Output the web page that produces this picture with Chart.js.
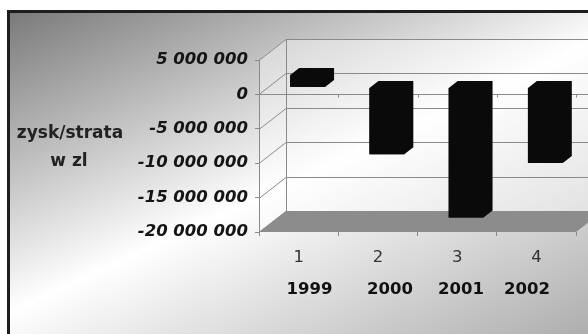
<!DOCTYPE html>
<html><head><meta charset="utf-8">
<style>html,body{margin:0;padding:0;background:#fff;overflow:hidden}canvas{display:block}</style>
<script src="https://cdn.jsdelivr.net/npm/chart.js@4/dist/chart.umd.min.js"></script>
</head><body>
<canvas id="c" width="588" height="334"></canvas>
<script>
const categories = ['1', '2', '3', '4'];
const years = ['1999', '2000', '2001', '2002'];
const profit = [1800000, -9700000, -18900000, -11000000];
const yMin = -20000000;
const yMax = 5000000;
const yStep = 5000000;
const yTitle = ['zysk/strata', 'w zl'];

function fmt(v) {
  const s = Math.abs(v).toString().replace(/\B(?=(\d{3})+(?!\d))/g, ' ');
  return (v < 0 ? '-' : '') + s;
}

const WALL_DX = 27, WALL_DY = -21;   // depth of the 3D box
const BAR_DX = 9, BAR_DY = -7;       // bar offset / bar depth
const YEAR_X = [309.5, 390, 461, 527]; // free text box positions
const YEAR_Y = 290;

const scene = {
  id: 'scene3d',
  beforeDraw(chart) {
    const ctx = chart.ctx, a = chart.chartArea, ys = chart.scales.y, xs = chart.scales.x;
    const W = chart.width, H = chart.height;
    ctx.save();
    ctx.fillStyle = '#fff';
    ctx.fillRect(0, 0, W, H);
    // gradient background in frame
    const g = ctx.createLinearGradient(10, 12, 238, 506);
    g.addColorStop(0, '#7a7a7a');
    g.addColorStop(0.5, '#ffffff');
    g.addColorStop(1, '#ababab');
    ctx.fillStyle = g;
    ctx.fillRect(8, 11, W, H);
    ctx.strokeStyle = '#1e1e1e';
    ctx.lineWidth = 3;
    ctx.strokeRect(8.5, 11.5, W + 20, H + 20);

    const L = a.left, R = a.right, T = a.top, B = a.bottom;
    // walls
    ctx.fillStyle = 'rgba(255,255,255,0.4)';
    ctx.beginPath();
    ctx.moveTo(L, T); ctx.lineTo(L + WALL_DX, T + WALL_DY); ctx.lineTo(L + WALL_DX, B + WALL_DY); ctx.lineTo(L, B);
    ctx.closePath(); ctx.fill();
    ctx.fillRect(L + WALL_DX, T + WALL_DY, R - L, B - T);
    // gridlines
    ctx.strokeStyle = '#8a8a8a';
    ctx.lineWidth = 1;
    ys.ticks.forEach(t => {
      const py = Math.round(ys.getPixelForValue(t.value)) + 0.5;
      ctx.beginPath();
      ctx.moveTo(L, py);
      ctx.lineTo(L + WALL_DX, py + WALL_DY);
      ctx.lineTo(R + WALL_DX, py + WALL_DY);
      ctx.stroke();
    });
    ctx.beginPath();
    ctx.moveTo(L + WALL_DX + 0.5, T + WALL_DY);
    ctx.lineTo(L + WALL_DX + 0.5, B + WALL_DY);
    ctx.stroke();
    // floor
    ctx.fillStyle = '#8c8c8c';
    ctx.beginPath();
    ctx.moveTo(L, B); ctx.lineTo(R, B); ctx.lineTo(R + WALL_DX, B + WALL_DY); ctx.lineTo(L + WALL_DX, B + WALL_DY);
    ctx.closePath(); ctx.fill();
    // category axis at zero
    const p0 = Math.round(ys.getPixelForValue(0)) + 0.5;
    ctx.strokeStyle = '#8a8a8a';
    ctx.beginPath();
    ctx.moveTo(L, p0); ctx.lineTo(W, p0);
    const half = (xs.getPixelForValue(1) - xs.getPixelForValue(0)) / 2;
    for (let i = 0; i < categories.length; i++) {
      const bx = Math.round(xs.getPixelForValue(i) + half) + 0.5;
      ctx.moveTo(bx, p0); ctx.lineTo(bx, p0 + 3);
    }
    ctx.stroke();
    // y title
    ctx.fillStyle = '#222';
    ctx.font = 'bold 17px "DejaVu Sans"';
    ctx.textAlign = 'center';
    ctx.textBaseline = 'alphabetic';
    ctx.fillText(yTitle[0], 70, 138);
    ctx.fillText(yTitle[1], 69, 166);
    // years text box
    ctx.fillStyle = '#111';
    ctx.font = 'bold 16.5px "DejaVu Sans"';
    ctx.textBaseline = 'middle';
    years.forEach((t, i) => ctx.fillText(t, YEAR_X[i], YEAR_Y));
    ctx.restore();
  },
  beforeDatasetsDraw(chart) {
    chart.ctx.save();
    chart.ctx.translate(BAR_DX, BAR_DY);
  },
  afterDatasetsDraw(chart) {
    const ctx = chart.ctx;
    ctx.restore();
    const meta = chart.getDatasetMeta(0);
    ctx.save();
    ctx.fillStyle = '#0a0a0a';
    meta.data.forEach(el => {
      const p = el.getProps(['x', 'y', 'base', 'width'], true);
      const l = p.x - p.width / 2 + BAR_DX, r = p.x + p.width / 2 + BAR_DX;
      const t = Math.min(p.y, p.base) + BAR_DY, b = Math.max(p.y, p.base) + BAR_DY;
      ctx.beginPath();
      ctx.moveTo(l, t); ctx.lineTo(l + BAR_DX, t + BAR_DY); ctx.lineTo(r + BAR_DX, t + BAR_DY);
      ctx.lineTo(r + BAR_DX, b + BAR_DY); ctx.lineTo(r, b); ctx.lineTo(l, b);
      ctx.closePath(); ctx.fill();
    });
    ctx.restore();
  }
};

new Chart(document.getElementById('c'), {
  type: 'bar',
  data: {
    labels: categories,
    datasets: [{
      data: profit,
      backgroundColor: '#0a0a0a',
      borderWidth: 0,
      categoryPercentage: 1,
      barPercentage: 0.44,
      clip: false
    }]
  },
  options: {
    responsive: false,
    animation: false,
    devicePixelRatio: 1,
    layout: { padding: { left: 0, top: 60, right: 12, bottom: 0 } },
    plugins: { legend: { display: false }, tooltip: { enabled: false } },
    scales: {
      y: {
        min: yMin, max: yMax,
        ticks: {
          stepSize: yStep,
          callback: v => fmt(v),
          font: { family: '"DejaVu Sans"', size: 16.5, weight: 'bold', style: 'italic' },
          color: '#151515',
          padding: 7
        },
        grid: { display: true, drawOnChartArea: false, drawTicks: true, tickLength: 4, color: '#8a8a8a' },
        border: { display: true, color: '#8a8a8a', width: 1 },
        afterFit(s) { s.width = 259; }
      },
      x: {
        ticks: {
          font: { family: '"DejaVu Sans"', size: 16.5 },
          color: '#333',
          padding: 12
        },
        grid: { display: true, drawOnChartArea: false, drawTicks: true, tickLength: 4, color: '#8a8a8a', offset: true },
        border: { display: false },
        afterFit(s) { s.height = 102; }
      }
    }
  },
  plugins: [scene]
});
</script>
</body></html>
